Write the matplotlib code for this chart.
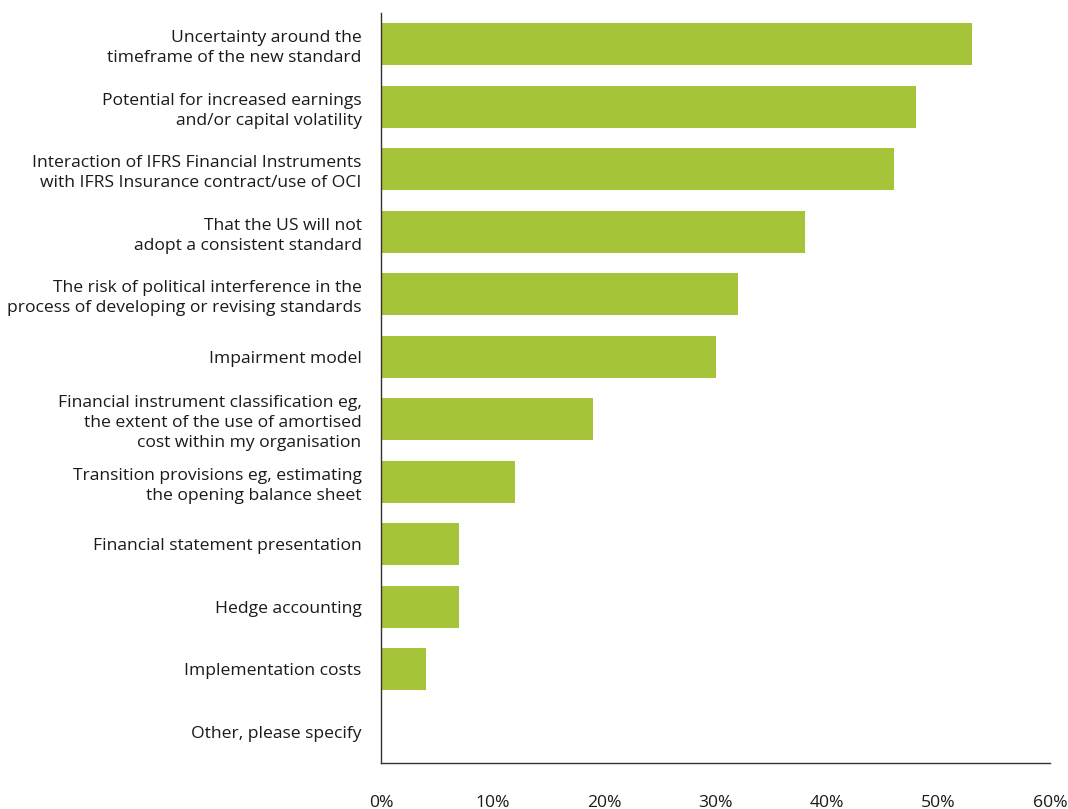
import matplotlib
matplotlib.use("Agg")
import matplotlib.pyplot as plt
import numpy as np

categories = [
    "Uncertainty around the\ntimeframe of the new standard",
    "Potential for increased earnings\nand/or capital volatility",
    "Interaction of IFRS Financial Instruments\nwith IFRS Insurance contract/use of OCI",
    "That the US will not\nadopt a consistent standard",
    "The risk of political interference in the\nprocess of developing or revising standards",
    "Impairment model",
    "Financial instrument classification eg,\nthe extent of the use of amortised\ncost within my organisation",
    "Transition provisions eg, estimating\nthe opening balance sheet",
    "Financial statement presentation",
    "Hedge accounting",
    "Implementation costs",
    "Other, please specify",
]
values = [53, 48, 46, 38, 32, 30, 19, 12, 7, 7, 4, 0]
xticks = [0, 10, 20, 30, 40, 50, 60]
xticklabels = ["0%", "10%", "20%", "30%", "40%", "50%", "60%"]

plt.rcParams['font.family'] = ['Open Sans', 'DejaVu Sans']

fig = plt.figure(figsize=(10.68, 8.09), dpi=100)
ax = fig.add_axes([381/1068, 46/809, (1050-381)/1068, (763-13)/809])

y = np.arange(len(categories))
ax.barh(y, values, height=0.67, color="#A6C43A")
ax.set_ylim(len(categories) - 0.5, -0.5)
ax.set_xlim(0, 60)
ax.set_yticks(y)
ax.set_yticklabels(categories, fontsize=12.6, color="#1a1a1a", linespacing=1.32)
ax.set_xticks(xticks)
ax.set_xticklabels(xticklabels, fontsize=12.6, color="#1a1a1a")
ax.tick_params(axis='both', length=0)
ax.tick_params(axis='y', pad=14)
ax.tick_params(axis='x', pad=23)
for s in ["top", "right"]:
    ax.spines[s].set_visible(False)
for s in ["left", "bottom"]:
    ax.spines[s].set_color("#333333")
    ax.spines[s].set_linewidth(1.0)

fig.savefig("out.png", dpi=100)
